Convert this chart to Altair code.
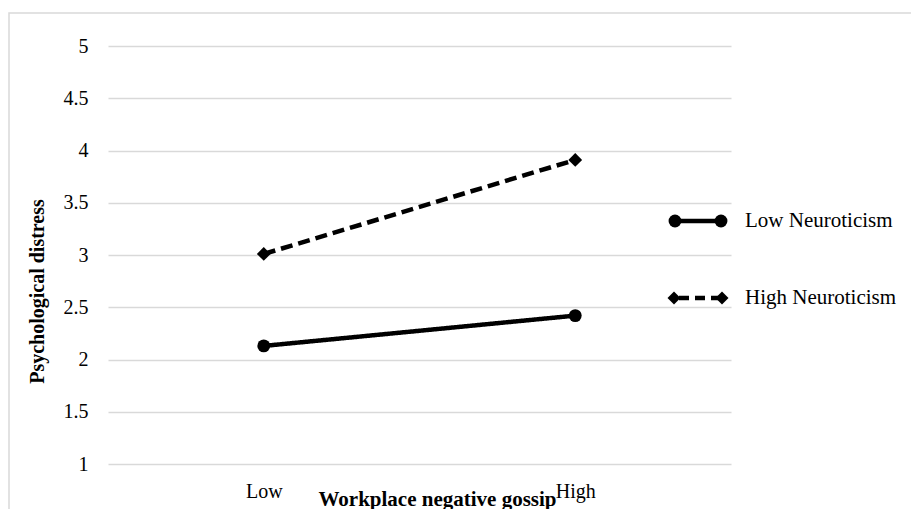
import altair as alt
import pandas as pd

# ---- data ----
levels = ["Low", "High"]
groups = ["Low Neuroticism", "High Neuroticism"]
low_neuro = [2.13, 2.42]
high_neuro = [3.01, 3.91]
y_ticks = [1, 1.5, 2, 2.5, 3, 3.5, 4, 4.5, 5]

rows = []
for lv, v in zip(levels, low_neuro):
    rows.append({"level": lv, "group": groups[0], "value": v})
for lv, v in zip(levels, high_neuro):
    rows.append({"level": lv, "group": groups[1], "value": v})
df = pd.DataFrame(rows)

FONT = "Liberation Serif"
GRID = "#d9d9d9"
LW = 4.5

x_enc = alt.X(
    "level:N",
    sort=levels,
    scale=alt.Scale(type="point", padding=0.5),
    axis=alt.Axis(
        title="Workplace negative gossip",
        labelAngle=0,
        grid=False,
        domain=False,
        ticks=False,
        tickSize=0,
        labelFont=FONT,
        labelFontSize=20,
        labelColor="black",
        labelBaseline="alphabetic",
        labelPadding=33,
        titleFont=FONT,
        titleFontSize=21,
        titleFontWeight="bold",
        titleColor="black",
        titleX=329,
        titleY=41,
        titleAlign="center",
        titleBaseline="alphabetic",
    ),
)
y_enc = alt.Y(
    "value:Q",
    scale=alt.Scale(domain=[1, 5], nice=False, zero=False),
    axis=alt.Axis(
        title="Psychological distress",
        values=y_ticks,
        format="~g",
        grid=True,
        gridColor=GRID,
        gridWidth=1.5,
        domain=False,
        ticks=False,
        tickSize=0,
        labelFont=FONT,
        labelFontSize=20,
        labelColor="black",
        labelPadding=20,
        titleFont=FONT,
        titleFontSize=20,
        titleFontWeight="bold",
        titleColor="black",
        titleAngle=270,
        titleX=-65,
        titleY=245,
        titleAlign="center",
        titleBaseline="alphabetic",
    ),
)

base = alt.Chart(df)

lines = base.mark_line(color="black", strokeWidth=LW).encode(
    x=x_enc,
    y=y_enc,
    strokeDash=alt.StrokeDash(
        "group:N",
        scale=alt.Scale(domain=groups, range=[[1, 0], [12, 6]]),
        legend=None,
    ),
)

pts_low = (
    base.transform_filter(alt.datum.group == groups[0])
    .mark_point(filled=True, color="black", opacity=1, size=165, shape="circle")
    .encode(x=x_enc, y=y_enc)
)
pts_high = (
    base.transform_filter(alt.datum.group == groups[1])
    .mark_point(filled=True, color="black", opacity=1, size=190, shape="diamond")
    .encode(x=x_enc, y=y_enc)
)

# ---- legend drawn as a small set of marks (layout only) ----
one = alt.Data(values=[{}])
L1_Y, L2_Y = 175, 252


def leg_point(shape, x, y, size):
    return alt.Chart(one).mark_point(
        filled=True, color="black", opacity=1, shape=shape, size=size
    ).encode(x=alt.value(x), y=alt.value(y))


leg_line1 = alt.Chart(one).mark_rule(color="black", strokeWidth=LW).encode(
    x=alt.value(567), x2=alt.value(613), y=alt.value(L1_Y)
)
leg_line2 = alt.Chart(one).mark_rule(
    color="black", strokeWidth=LW, strokeDash=[10, 6]
).encode(x=alt.value(571), x2=alt.value(614), y=alt.value(L2_Y))
leg_text1 = alt.Chart(one).mark_text(
    align="left", baseline="middle", font=FONT, fontSize=21, color="black"
).encode(x=alt.value(637), y=alt.value(L1_Y), text=alt.value(groups[0]))
leg_text2 = alt.Chart(one).mark_text(
    align="left", baseline="middle", font=FONT, fontSize=21, color="black"
).encode(x=alt.value(637), y=alt.value(L2_Y), text=alt.value(groups[1]))

legend_parts = [
    leg_line1,
    leg_point("circle", 567, L1_Y, 165),
    leg_point("circle", 613, L1_Y, 165),
    leg_text1,
    leg_line2,
    leg_point("diamond", 566, L2_Y, 170),
    leg_point("diamond", 614, L2_Y, 170),
    leg_text2,
]

frame = alt.Chart(one).mark_rect(
    filled=False, stroke=GRID, strokeWidth=1.5
).encode(
    x=alt.value(-99),
    x2=alt.value(900),
    y=alt.value(-33),
    y2=alt.value(600),
)

chart = (
    alt.layer(frame, lines, pts_low, pts_high, *legend_parts)
    .properties(
        width=623,
        height=418,
        padding={"left": 100, "top": 38, "right": 180, "bottom": 45},
        autosize=alt.AutoSizeParams(type="none"),
        background="white",
    )
    .configure_view(strokeWidth=0, stroke="transparent")
)

chart.save("out.html", embed_options={"renderer": "svg", "actions": False})
